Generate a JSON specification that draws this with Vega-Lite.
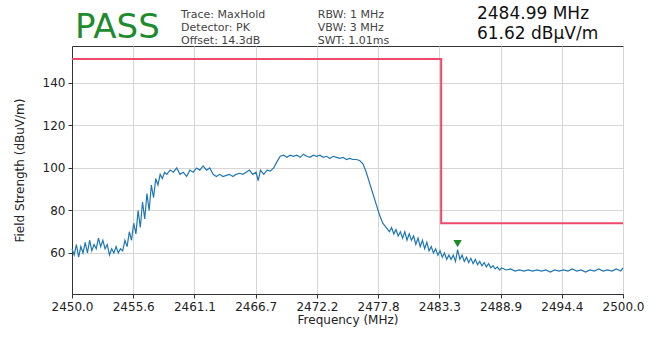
{
  "$schema": "https://vega.github.io/schema/vega-lite/v6.json",
  "width": 551,
  "height": 248,
  "autosize": {"type": "none"},
  "padding": {"left": 72, "top": 46, "right": 36, "bottom": 43},
  "background": "white",
  "config": {
    "font": "DejaVu Sans",
    "view": {"stroke": "#333333", "strokeWidth": 1},
    "axis": {
      "labelFont": "DejaVu Sans",
      "titleFont": "DejaVu Sans",
      "labelFontSize": 12,
      "titleFontSize": 12,
      "titleFontWeight": "normal",
      "labelColor": "#222222",
      "titleColor": "#222222",
      "tickColor": "#333333",
      "tickSize": 4,
      "domainColor": "#333333",
      "gridColor": "#d6d6d6",
      "gridWidth": 1,
      "labelPadding": 3,
      "labelOverlap": false,
      "labelFlush": false
    }
  },
  "datasets": {
    "trace": [
      {"freq": 2450.0, "level": 62}, {"freq": 2450.2, "level": 59}, {"freq": 2450.4, "level": 64}, {"freq": 2450.6, "level": 58},
      {"freq": 2450.8, "level": 63}, {"freq": 2451.0, "level": 60}, {"freq": 2451.2, "level": 65}, {"freq": 2451.4, "level": 60},
      {"freq": 2451.6, "level": 66}, {"freq": 2451.8, "level": 61}, {"freq": 2452.0, "level": 64}, {"freq": 2452.2, "level": 62},
      {"freq": 2452.4, "level": 67}, {"freq": 2452.6, "level": 63}, {"freq": 2452.8, "level": 66}, {"freq": 2453.0, "level": 62},
      {"freq": 2453.2, "level": 64}, {"freq": 2453.4, "level": 59}, {"freq": 2453.6, "level": 62}, {"freq": 2453.8, "level": 60},
      {"freq": 2454.0, "level": 63}, {"freq": 2454.2, "level": 60}, {"freq": 2454.4, "level": 62}, {"freq": 2454.6, "level": 61},
      {"freq": 2454.8, "level": 66}, {"freq": 2455.0, "level": 63}, {"freq": 2455.2, "level": 70}, {"freq": 2455.4, "level": 66},
      {"freq": 2455.6, "level": 74}, {"freq": 2455.8, "level": 69}, {"freq": 2456.0, "level": 80}, {"freq": 2456.2, "level": 72},
      {"freq": 2456.4, "level": 84}, {"freq": 2456.6, "level": 76}, {"freq": 2456.8, "level": 88}, {"freq": 2457.0, "level": 80},
      {"freq": 2457.2, "level": 92}, {"freq": 2457.4, "level": 86}, {"freq": 2457.6, "level": 95}, {"freq": 2457.8, "level": 92},
      {"freq": 2458.0, "level": 97}, {"freq": 2458.2, "level": 95}, {"freq": 2458.4, "level": 98},
      {"freq": 2458.6, "level": 97}, {"freq": 2458.9, "level": 99}, {"freq": 2459.2, "level": 98}, {"freq": 2459.5, "level": 100},
      {"freq": 2459.8, "level": 97}, {"freq": 2460.1, "level": 98}, {"freq": 2460.4, "level": 96}, {"freq": 2460.7, "level": 99},
      {"freq": 2461.0, "level": 98}, {"freq": 2461.3, "level": 100}, {"freq": 2461.6, "level": 99}, {"freq": 2461.9, "level": 101},
      {"freq": 2462.2, "level": 99}, {"freq": 2462.5, "level": 100}, {"freq": 2462.8, "level": 97}, {"freq": 2463.1, "level": 96},
      {"freq": 2463.4, "level": 97}, {"freq": 2463.7, "level": 96}, {"freq": 2464.0, "level": 96.5}, {"freq": 2464.3, "level": 97},
      {"freq": 2464.6, "level": 96}, {"freq": 2464.9, "level": 97}, {"freq": 2465.2, "level": 97.5}, {"freq": 2465.5, "level": 97},
      {"freq": 2465.8, "level": 98}, {"freq": 2466.1, "level": 99}, {"freq": 2466.4, "level": 97}, {"freq": 2466.7, "level": 98},
      {"freq": 2466.9, "level": 94}, {"freq": 2467.1, "level": 99}, {"freq": 2467.4, "level": 97}, {"freq": 2467.7, "level": 99},
      {"freq": 2468.0, "level": 98.5}, {"freq": 2468.3, "level": 100}, {"freq": 2468.6, "level": 103}, {"freq": 2468.9, "level": 105.5},
      {"freq": 2469.2, "level": 106}, {"freq": 2469.5, "level": 105}, {"freq": 2469.8, "level": 106}, {"freq": 2470.1, "level": 105.5},
      {"freq": 2470.4, "level": 106}, {"freq": 2470.7, "level": 105}, {"freq": 2471.0, "level": 106.5}, {"freq": 2471.3, "level": 105.5},
      {"freq": 2471.6, "level": 105}, {"freq": 2471.9, "level": 106}, {"freq": 2472.2, "level": 105.5}, {"freq": 2472.5, "level": 106},
      {"freq": 2472.8, "level": 105}, {"freq": 2473.1, "level": 105.5}, {"freq": 2473.4, "level": 104.5}, {"freq": 2473.7, "level": 105.5},
      {"freq": 2474.0, "level": 105}, {"freq": 2474.3, "level": 104.5}, {"freq": 2474.6, "level": 105}, {"freq": 2474.9, "level": 104},
      {"freq": 2475.2, "level": 104.5}, {"freq": 2475.5, "level": 104}, {"freq": 2475.8, "level": 104}, {"freq": 2476.1, "level": 103.5},
      {"freq": 2476.4, "level": 102}, {"freq": 2476.7, "level": 98}, {"freq": 2477.0, "level": 93}, {"freq": 2477.3, "level": 88},
      {"freq": 2477.6, "level": 83}, {"freq": 2477.9, "level": 78}, {"freq": 2478.2, "level": 74}, {"freq": 2478.5, "level": 72},
      {"freq": 2478.8, "level": 70}, {"freq": 2479.0, "level": 72}, {"freq": 2479.2, "level": 69}, {"freq": 2479.4, "level": 71},
      {"freq": 2479.6, "level": 68}, {"freq": 2479.8, "level": 70}, {"freq": 2480.0, "level": 67}, {"freq": 2480.2, "level": 70},
      {"freq": 2480.4, "level": 66}, {"freq": 2480.6, "level": 69}, {"freq": 2480.8, "level": 66}, {"freq": 2481.0, "level": 68},
      {"freq": 2481.2, "level": 64}, {"freq": 2481.4, "level": 67}, {"freq": 2481.6, "level": 63}, {"freq": 2481.8, "level": 66},
      {"freq": 2482.0, "level": 62}, {"freq": 2482.2, "level": 65}, {"freq": 2482.4, "level": 61}, {"freq": 2482.6, "level": 63},
      {"freq": 2482.8, "level": 60}, {"freq": 2483.0, "level": 62}, {"freq": 2483.2, "level": 59}, {"freq": 2483.4, "level": 61},
      {"freq": 2483.6, "level": 58}, {"freq": 2483.8, "level": 60}, {"freq": 2484.0, "level": 57}, {"freq": 2484.2, "level": 59},
      {"freq": 2484.4, "level": 57}, {"freq": 2484.6, "level": 59}, {"freq": 2484.8, "level": 56}, {"freq": 2484.99, "level": 61.62},
      {"freq": 2485.2, "level": 57}, {"freq": 2485.4, "level": 59}, {"freq": 2485.6, "level": 56}, {"freq": 2485.8, "level": 58},
      {"freq": 2486.0, "level": 55.5}, {"freq": 2486.2, "level": 57.5}, {"freq": 2486.4, "level": 55}, {"freq": 2486.6, "level": 57},
      {"freq": 2486.8, "level": 54.5}, {"freq": 2487.0, "level": 56}, {"freq": 2487.2, "level": 54}, {"freq": 2487.4, "level": 55.5},
      {"freq": 2487.6, "level": 53.5}, {"freq": 2487.8, "level": 55}, {"freq": 2488.0, "level": 53}, {"freq": 2488.2, "level": 54},
      {"freq": 2488.4, "level": 52.5}, {"freq": 2488.6, "level": 53.5}, {"freq": 2488.8, "level": 52}, {"freq": 2489.0, "level": 53},
      {"freq": 2489.4, "level": 52}, {"freq": 2489.8, "level": 52.5}, {"freq": 2490.2, "level": 51.5}, {"freq": 2490.6, "level": 52},
      {"freq": 2491.0, "level": 51.5}, {"freq": 2491.4, "level": 52}, {"freq": 2491.8, "level": 51.5}, {"freq": 2492.2, "level": 52},
      {"freq": 2492.6, "level": 51.5}, {"freq": 2493.0, "level": 52}, {"freq": 2493.4, "level": 51}, {"freq": 2493.8, "level": 52},
      {"freq": 2494.2, "level": 51.5}, {"freq": 2494.6, "level": 52}, {"freq": 2495.0, "level": 51.5}, {"freq": 2495.4, "level": 52.5},
      {"freq": 2495.8, "level": 51.5}, {"freq": 2496.2, "level": 52}, {"freq": 2496.6, "level": 51}, {"freq": 2497.0, "level": 52},
      {"freq": 2497.4, "level": 51.5}, {"freq": 2497.8, "level": 52.5}, {"freq": 2498.2, "level": 51.5}, {"freq": 2498.6, "level": 52},
      {"freq": 2499.0, "level": 51.5}, {"freq": 2499.4, "level": 52.5}, {"freq": 2499.8, "level": 51.5}, {"freq": 2500.0, "level": 53}
    ],
    "limit": [
      {"freq": 2450.0, "level": 151.3, "ord": 1},
      {"freq": 2483.5, "level": 151.3, "ord": 2},
      {"freq": 2483.5, "level": 74, "ord": 3},
      {"freq": 2500.0, "level": 74, "ord": 4}
    ],
    "marker": [{"freq": 2484.99, "level": 61.62}],
    "verdict": [{"label": "PASS", "freq": 2450.27, "level": 161.2}],
    "settings": [
      {"label": "Trace: MaxHold\nDetector: PK\nOffset: 14.3dB", "freq": 2459.9, "level": 170.6},
      {"label": "RBW: 1 MHz\nVBW: 3 MHz\nSWT: 1.01ms", "freq": 2472.3, "level": 170.6}
    ],
    "readout": [{"label": "2484.99 MHz\n61.62 dBµV/m", "freq": 2486.75, "level": 170.1}]
  },
  "layer": [
    {
      "data": {"name": "limit"},
      "mark": {"type": "line", "color": "#f0486c", "strokeWidth": 2},
      "encoding": {
        "x": {
          "field": "freq", "type": "quantitative",
          "scale": {"domain": [2450, 2500], "nice": false, "zero": false},
          "axis": {
            "title": "Frequency (MHz)",
            "values": [2450, 2455.5556, 2461.1111, 2466.6667, 2472.2222, 2477.7778, 2483.3333, 2488.8889, 2494.4444, 2500],
            "format": ".1f",
            "titlePadding": 2,
            "grid": true
          }
        },
        "y": {
          "field": "level", "type": "quantitative",
          "scale": {"domain": [40.7, 157.4], "nice": false, "zero": false},
          "axis": {
            "title": "Field Strength (dBuV/m)",
            "values": [60, 80, 100, 120, 140],
            "titlePadding": 16,
            "grid": true
          }
        },
        "order": {"field": "ord", "type": "quantitative"}
      }
    },
    {
      "data": {"name": "trace"},
      "mark": {"type": "line", "color": "#1f77b4", "strokeWidth": 1.2},
      "encoding": {
        "x": {"field": "freq", "type": "quantitative"},
        "y": {"field": "level", "type": "quantitative"}
      }
    },
    {
      "data": {"name": "marker"},
      "mark": {"type": "point", "shape": "triangle-down", "filled": true, "color": "#1a8a2a", "size": 70, "opacity": 1, "yOffset": -6},
      "encoding": {
        "x": {"field": "freq", "type": "quantitative"},
        "y": {"field": "level", "type": "quantitative"}
      }
    },
    {
      "data": {"name": "verdict"},
      "mark": {"type": "text", "font": "DejaVu Sans", "fontSize": 34, "color": "#1e8c2e", "align": "left", "baseline": "alphabetic"},
      "encoding": {
        "x": {"field": "freq", "type": "quantitative"},
        "y": {"field": "level", "type": "quantitative"},
        "text": {"field": "label"}
      }
    },
    {
      "data": {"name": "settings"},
      "mark": {"type": "text", "font": "DejaVu Sans", "fontSize": 11, "lineHeight": 13, "lineBreak": "\n", "color": "#444444", "align": "left", "baseline": "alphabetic"},
      "encoding": {
        "x": {"field": "freq", "type": "quantitative"},
        "y": {"field": "level", "type": "quantitative"},
        "text": {"field": "label"}
      }
    },
    {
      "data": {"name": "readout"},
      "mark": {"type": "text", "font": "DejaVu Sans", "fontSize": 17, "lineHeight": 20, "lineBreak": "\n", "color": "#111111", "align": "left", "baseline": "alphabetic"},
      "encoding": {
        "x": {"field": "freq", "type": "quantitative"},
        "y": {"field": "level", "type": "quantitative"},
        "text": {"field": "label"}
      }
    }
  ]
}
